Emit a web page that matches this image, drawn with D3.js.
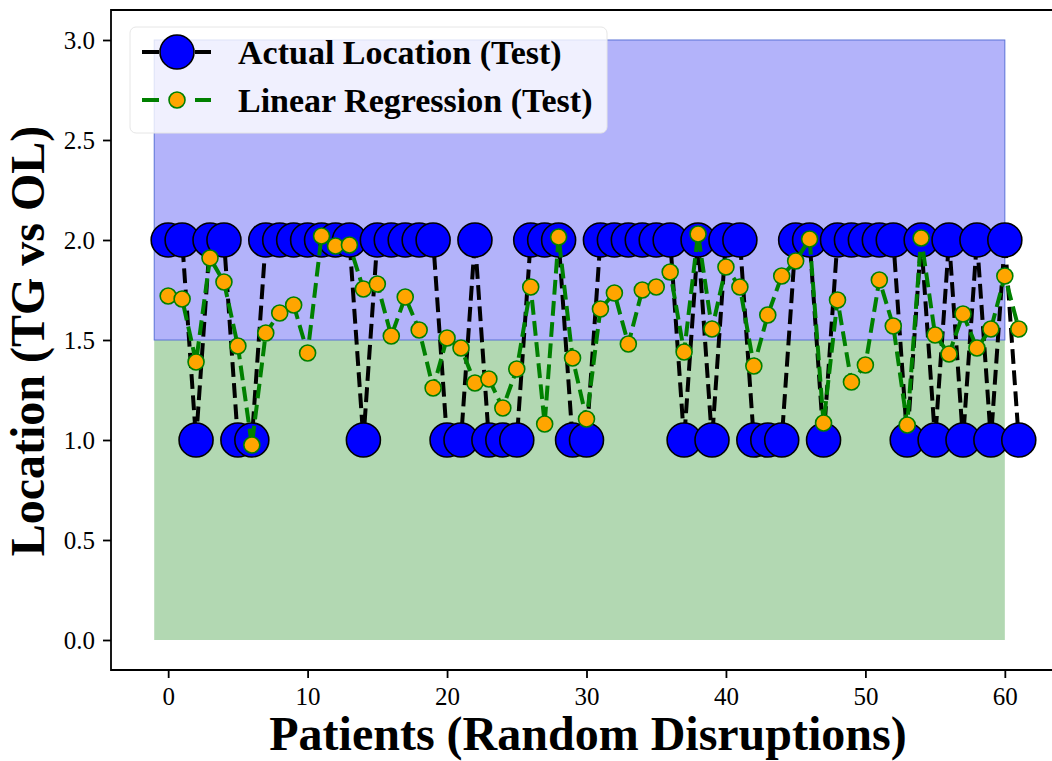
<!DOCTYPE html>
<html>
<head>
<meta charset="utf-8">
<script src="https://cdn.jsdelivr.net/npm/d3@7"></script>
<style>
  body { margin: 0; background: #fff; }
  svg { display: block; }
</style>
</head>
<body>
<div id="app"></div>
<script>
// actual location per patient (1 = OL, 2 = TG)
const actual = [
  2, 2, 1, 2, 2, 1, 1, 2, 2, 2,
  2, 2, 2, 2, 1, 2, 2, 2, 2, 2,
  1, 1, 2, 1, 1, 1, 2, 2, 2, 1,
  1, 2, 2, 2, 2, 2, 2, 1, 2, 1,
  2, 2, 1, 1, 1, 2, 2, 1, 2, 2,
  2, 2, 2, 1, 2, 1, 2, 1, 2, 1,
  2, 1,
]

// linear regression predictions
const regression = [
  1.72, 1.705, 1.39, 1.91, 1.79, 1.47, 0.975, 1.535, 1.635, 1.675,
  1.435, 2.02, 1.97, 1.975, 1.755, 1.78, 1.52, 1.715, 1.55, 1.26,
  1.51, 1.46, 1.285, 1.305, 1.16, 1.355, 1.765, 1.08, 2.015, 1.41,
  1.105, 1.655, 1.735, 1.48, 1.75, 1.765, 1.84, 1.44, 2.03, 1.555,
  1.865, 1.765, 1.37, 1.625, 1.82, 1.895, 2.005, 1.085, 1.70, 1.29,
  1.375, 1.80, 1.57, 1.075, 2.01, 1.525, 1.43, 1.63, 1.46, 1.555,
  1.82, 1.555,
]

// shaded bands: [from, to] on y, drawn over x span
const bandLow = [0, 1.5]
const bandHigh = [1.5, 3.0]
const bandSpan = [-1, 60]

const xTicks = [0, 10, 20, 30, 40, 50, 60]
const yTicks = [0.0, 0.5, 1.0, 1.5, 2.0, 2.5, 3.0]

const legendLabels = ['Actual Location (Test)', 'Linear Regression (Test)']

const config = {
  width: 1052,
  height: 761,
  left: 111,
  right: 1062, // right spine lies just outside the figure
  top: 10,
  bottom: 670,
  lineWidth: 4,
  dash: '14.8,6.4',
  font: '"Liberation Serif", "Times New Roman", serif',
}

const svg = d3
  .select('#app')
  .append('svg')
  .attr('width', config.width)
  .attr('height', config.height)

const x = d3.scaleLinear().domain([-4.1, 64.1]).range([config.left, config.right])
const y = d3.scaleLinear().domain([-0.15, 3.15]).range([config.bottom, config.top])

// bands
svg
  .append('rect')
  .attr('x', x(bandSpan[0]))
  .attr('width', x(bandSpan[1]) - x(bandSpan[0]))
  .attr('y', y(bandLow[1]))
  .attr('height', y(bandLow[0]) - y(bandLow[1]))
  .attr('fill', '#b2d8b2')

svg
  .append('rect')
  .attr('x', x(bandSpan[0]))
  .attr('width', x(bandSpan[1]) - x(bandSpan[0]))
  .attr('y', y(bandHigh[1]))
  .attr('height', y(bandHigh[0]) - y(bandHigh[1]))
  .attr('fill', '#b3b3fa')
  .attr('stroke', '#5a72d6')
  .attr('stroke-width', 1)

const line = d3
  .line()
  .x((d, i) => x(i))
  .y((d) => y(d))

// actual series
svg
  .append('path')
  .attr('d', line(actual))
  .attr('fill', 'none')
  .attr('stroke', '#000')
  .attr('stroke-width', config.lineWidth)
  .attr('stroke-dasharray', config.dash)

svg
  .append('g')
  .selectAll('circle')
  .data(actual)
  .join('circle')
  .attr('cx', (d, i) => x(i))
  .attr('cy', (d) => y(d))
  .attr('r', 17)
  .attr('fill', '#0000ff')
  .attr('stroke', '#000')
  .attr('stroke-width', 1.6)

// regression series
svg
  .append('path')
  .attr('d', line(regression))
  .attr('fill', 'none')
  .attr('stroke', '#008000')
  .attr('stroke-width', config.lineWidth)
  .attr('stroke-dasharray', config.dash)

svg
  .append('g')
  .selectAll('circle')
  .data(regression)
  .join('circle')
  .attr('cx', (d, i) => x(i))
  .attr('cy', (d) => y(d))
  .attr('r', 8)
  .attr('fill', '#ffa500')
  .attr('stroke', '#008000')
  .attr('stroke-width', 1.6)

// axes
const xAxis = svg
  .append('g')
  .attr('transform', `translate(0,${config.bottom})`)
  .call(d3.axisBottom(x).tickValues(xTicks).tickFormat(d3.format('d')).tickSize(8).tickPadding(9))

const yAxis = svg
  .append('g')
  .attr('transform', `translate(${config.left},0)`)
  .call(d3.axisLeft(y).tickValues(yTicks).tickFormat(d3.format('.1f')).tickSize(8).tickPadding(8))

for (const ax of [xAxis, yAxis]) {
  ax.select('.domain').remove()
  ax.selectAll('line').attr('stroke', '#000').attr('stroke-width', 1.8)
  ax.selectAll('text')
    .attr('fill', '#000')
    .style('font-family', config.font)
    .style('font-size', '25px')
}

// spines (top, left, bottom)
svg
  .append('path')
  .attr('d', `M${config.right},${config.top}H${config.left}V${config.bottom}H${config.right}`)
  .attr('fill', 'none')
  .attr('stroke', '#000')
  .attr('stroke-width', 1.8)

// axis titles
svg
  .append('text')
  .attr('x', 588)
  .attr('y', 750)
  .attr('text-anchor', 'middle')
  .style('font-family', config.font)
  .style('font-weight', 'bold')
  .style('font-size', '48px')
  .text('Patients (Random Disruptions)')

svg
  .append('text')
  .attr('transform', 'translate(44,341) rotate(-90)')
  .attr('text-anchor', 'middle')
  .style('font-family', config.font)
  .style('font-weight', 'bold')
  .style('font-size', '48px')
  .text('Location (TG vs OL)')

// legend
const legend = svg.append('g')
legend
  .append('rect')
  .attr('x', 130)
  .attr('y', 27)
  .attr('width', 477)
  .attr('height', 106)
  .attr('rx', 6)
  .attr('fill', '#fff')
  .attr('fill-opacity', 0.8)
  .attr('stroke', '#e6e6e6')

const legendRows = [
  {label: legendLabels[0], color: '#000', fill: '#0000ff', edge: '#000', r: 17},
  {label: legendLabels[1], color: '#008000', fill: '#ffa500', edge: '#008000', r: 8},
]

legendRows.forEach((row, i) => {
  const cy = 52 + i * 48
  const g = legend.append('g')
  for (const [a, b] of [[142, 159], [195, 211]]) {
    g.append('line')
      .attr('x1', a).attr('x2', b)
      .attr('y1', cy).attr('y2', cy)
      .attr('stroke', row.color)
      .attr('stroke-width', config.lineWidth)
  }
  g.append('circle')
    .attr('cx', 177)
    .attr('cy', cy)
    .attr('r', row.r)
    .attr('fill', row.fill)
    .attr('stroke', row.edge)
    .attr('stroke-width', 1.6)
  g.append('text')
    .attr('x', 238)
    .attr('y', cy + 12)
    .style('font-family', config.font)
    .style('font-weight', 'bold')
    .style('font-size', '34px')
    .text(row.label)
})
</script>
</body>
</html>
